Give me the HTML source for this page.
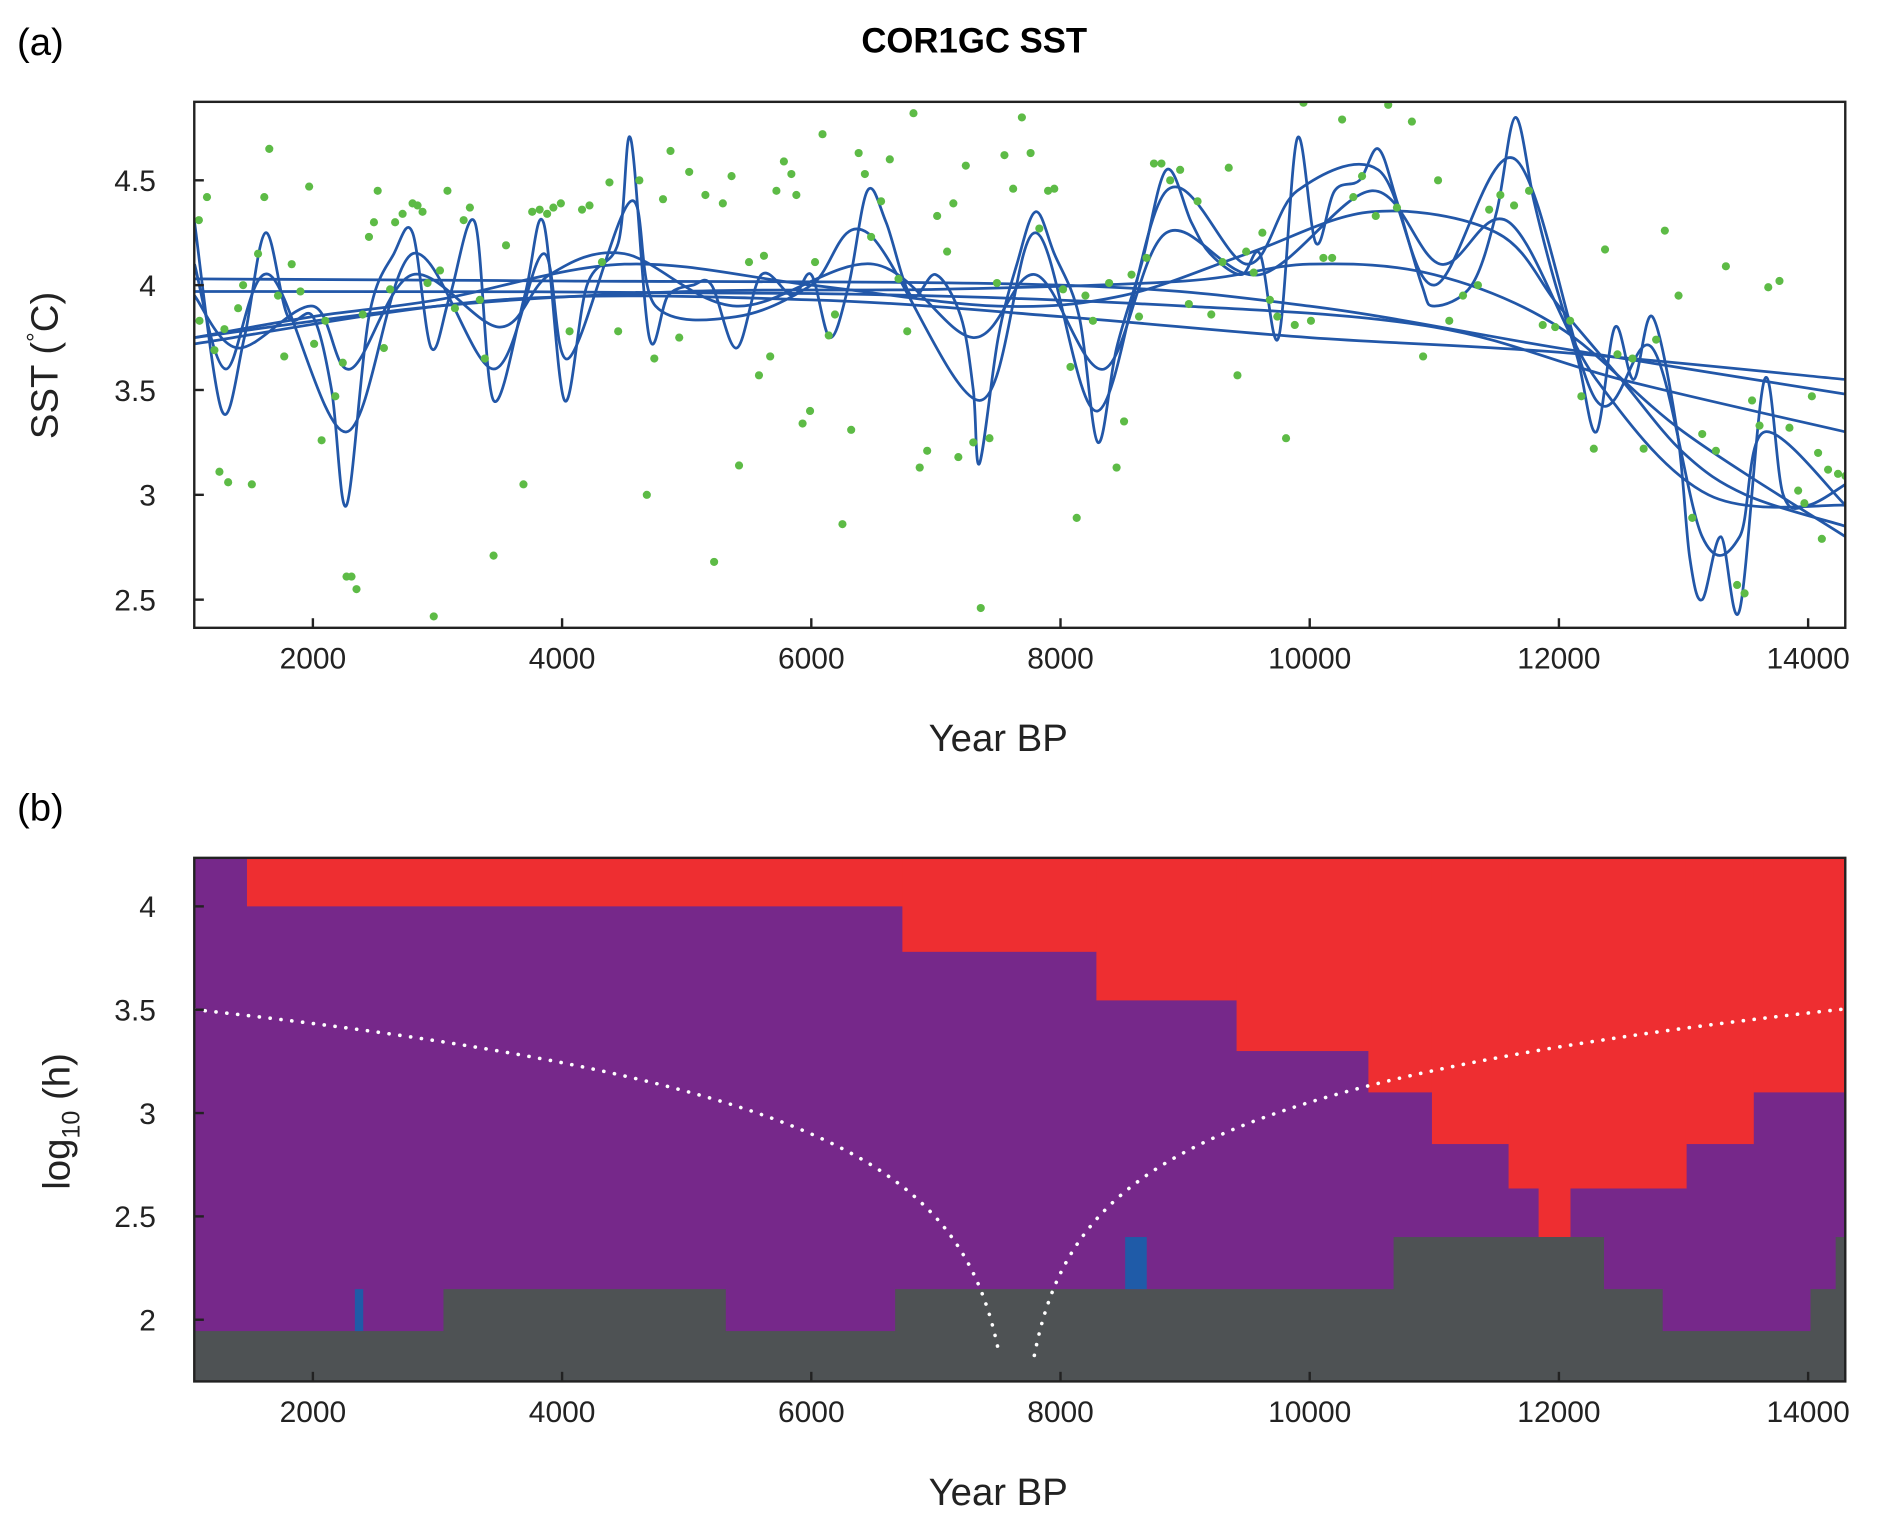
<!DOCTYPE html>
<html><head><meta charset="utf-8"><style>
html,body{margin:0;padding:0;background:#fff}
svg{display:block;font-family:"Liberation Sans",Arial,sans-serif}
</style></head><body>
<svg id="chart" width="1879" height="1524" viewBox="0 0 1568 1272" xmlns="http://www.w3.org/2000/svg">
<defs>
<clipPath id="clipA"><rect x="162" y="85" width="1378" height="439"/></clipPath>
<clipPath id="clipB"><rect x="162" y="716" width="1378" height="437"/></clipPath>
</defs>
<text x="14" y="46" font-size="32">(a)</text>
<text x="813" y="44" font-size="29" font-weight="bold" text-anchor="middle">COR1GC SST</text>
<text x="14" y="685" font-size="32">(b)</text>
<g id="panelA"></g>
<g id="panelB"></g>
</svg>
<script>
// ---- Panel A data ----
const scatterYears=[1085,1150,1090,1210,1250,1320,1290,1400,1440,1510,1560,1610,1650,1720,1770,1830,1900,1970,2010,2070,2100,2180,2240,2270,2310,2350,2400,2450,2490,2520,2570,2620,2660,2720,2800,2840,2880,2920,2970,3020,3080,3140,3210,3260,3340,3380,3450,3550,3690,3760,3820,3880,3930,3990,4060,4160,4220,4320,4380,4450,4620,4680,4740,4810,4870,4940,5020,5150,5220,5290,5360,5420,5500,5580,5620,5670,5720,5780,5840,5880,5930,5990,6030,6090,6140,6190,6250,6320,6380,6430,6480,6560,6630,6700,6770,6820,6870,6930,7010,7090,7140,7180,7240,7300,7360,7430,7490,7550,7620,7690,7760,7830,7900,7950,8020,8080,8130,8200,8260,8390,8450,8510,8570,8630,8690,8750,8810,8880,8960,9030,9100,9210,9300,9350,9420,9490,9550,9620,9680,9740,9810,9880,9950,10010,10110,10180,10260,10350,10420,10530,10630,10700,10820,10910,11030,11120,11230,11350,11440,11530,11640,11760,11870,11970,12090,12180,12280,12370,12470,12590,12680,12780,12850,12960,13070,13150,13260,13340,13430,13490,13550,13610,13680,13770,13850,13920,13970,14030,14080,14160,14240,14300,14110];
const scatterValues=[4.31,4.42,3.83,3.69,3.11,3.06,3.79,3.89,4.0,3.05,4.15,4.42,4.65,3.95,3.66,4.1,3.97,4.47,3.72,3.26,3.83,3.47,3.63,2.61,2.61,2.55,3.86,4.23,4.3,4.45,3.7,3.98,4.3,4.34,4.39,4.38,4.35,4.01,2.42,4.07,4.45,3.89,4.31,4.37,3.93,3.65,2.71,4.19,3.05,4.35,4.36,4.34,4.37,4.39,3.78,4.36,4.38,4.11,4.49,3.78,4.5,3.0,3.65,4.41,4.64,3.75,4.54,4.43,2.68,4.39,4.52,3.14,4.11,3.57,4.14,3.66,4.45,4.59,4.53,4.43,3.34,3.4,4.11,4.72,3.76,3.86,2.86,3.31,4.63,4.53,4.23,4.4,4.6,4.03,3.78,4.82,3.13,3.21,4.33,4.16,4.39,3.18,4.57,3.25,2.46,3.27,4.01,4.62,4.46,4.8,4.63,4.27,4.45,4.46,3.98,3.61,2.89,3.95,3.83,4.01,3.13,3.35,4.05,3.85,4.13,4.58,4.58,4.5,4.55,3.91,4.4,3.86,4.11,4.56,3.57,4.16,4.06,4.25,3.93,3.85,3.27,3.81,4.87,3.83,4.13,4.13,4.79,4.42,4.52,4.33,4.86,4.37,4.78,3.66,4.5,3.83,3.95,4.0,4.36,4.43,4.38,4.45,3.81,3.8,3.83,3.47,3.22,4.17,3.67,3.65,3.22,3.74,4.26,3.95,2.89,3.29,3.21,4.09,2.57,2.53,3.45,3.33,3.99,4.02,3.32,3.02,2.96,3.47,3.2,3.12,3.1,3.09,2.79];

const wigglyYears=[1050,1270,1450,1620,1800,2000,2150,2270,2450,2650,2800,2950,3100,3300,3450,3700,3850,4020,4200,4450,4550,4700,4850,5050,5200,5400,5600,5850,6000,6150,6300,6450,6600,6800,7000,7200,7300,7350,7500,7650,7800,7950,8150,8300,8450,8650,8850,9050,9200,9450,9600,9750,9900,10050,10200,10400,10550,10700,10900,11000,11300,11500,11650,11800,11950,12150,12300,12450,12600,12750,12950,13050,13150,13300,13450,13650,13800,14000,14300];
const wigglyValues=[4.3,3.4,3.75,4.25,3.85,3.85,3.5,2.95,3.85,4.15,4.25,3.7,3.95,4.3,3.45,3.95,4.3,3.45,4.0,4.2,4.7,3.75,3.95,4.0,4.0,3.7,4.05,3.95,4.05,3.75,4.0,4.45,4.3,3.95,4.05,3.85,3.5,3.15,3.75,4.1,4.35,4.15,3.85,3.25,3.7,4.1,4.55,4.3,4.15,4.05,4.15,3.75,4.7,4.2,4.45,4.5,4.65,4.4,4.0,3.9,4.0,4.35,4.8,4.4,4.05,3.65,3.3,3.8,3.55,3.85,3.3,2.7,2.5,2.8,2.45,3.55,3.0,2.95,3.05];
const medAYears=[1050,1300,1650,2270,2800,3450,3850,4050,4550,4750,5400,6000,6450,7350,7800,8300,8850,9500,9900,10550,11000,11650,12300,12750,13150,13450,13650,14300];
const medAValues=[4.1,3.6,4.05,3.3,4.15,3.6,4.15,3.65,4.4,3.9,3.85,4.0,4.25,3.45,4.25,3.4,4.45,4.1,4.45,4.55,4.0,4.6,3.45,3.7,2.8,2.8,3.3,2.95];
const medBYears=[1050,1400,2000,2300,2800,3500,3900,4500,5400,6500,7300,7800,8350,8850,9600,10500,11050,11600,12300,13200,14300];
const medBValues=[3.95,3.7,3.9,3.6,4.05,3.8,4.05,4.15,3.9,4.1,3.75,4.05,3.6,4.25,4.05,4.45,4.1,4.3,3.55,3.0,2.95];
const s1Years=[1050,2000,3000,4500,6000,7500,8500,9500,10500,11500,12000,12500,13000,13500,14300];
const s1Values=[3.75,3.85,3.93,4.1,4.0,3.9,3.95,4.15,4.35,4.25,3.9,3.55,3.2,3.0,2.85];
const s2Years=[1050,3000,5000,7000,9000,10000,11000,12000,13000,14300];
const s2Values=[3.75,3.9,3.97,3.98,4.02,4.1,4.05,3.8,3.3,2.8];
const s3Years=[1050,3500,6000,8000,10000,12000,14300];
const s3Values=[3.72,3.93,3.93,3.85,3.75,3.68,3.55];
const s4Years=[1050,4000,8000,10000,12000,14300];
const s4Values=[4.03,4.02,4.0,3.9,3.7,3.48];
const s5Years=[1050,6000,9000,11000,12500,14300];
const s5Values=[3.97,3.96,3.9,3.8,3.55,3.3];
const xTicks=[2000,4000,6000,8000,10000,12000,14000];
const xTickLabels=["2000","4000","6000","8000","10000","12000","14000"];
const yTicksA=[2.5,3,3.5,4,4.5];
const yTickLabelsA=["2.5","3","3.5","4","4.5"];

// ---- Panel B data ----
const redEdges=[1048,1471,6731,8288,9413,10471,10981,11596,11837,12087,13019,13558,14300];
const redLevels=[4.3,4.0,3.78,3.545,3.30,3.10,2.85,2.635,2.40,2.635,2.85,3.10];
const grayEdges=[1048,3048,5308,6673,10673,12356,12827,14019,14221,14300];
const grayLevels=[1.945,2.148,1.945,2.148,2.40,2.148,1.945,2.148,2.40];
const blueStarts=[2337,8519];
const blueEnds=[2404,8692];
const blueBottoms=[1.945,2.148];
const blueTops=[2.148,2.40];
const yTicksB=[2,2.5,3,3.5,4];
const yTickLabelsB=["2","2.5","3","3.5","4"];
const coiCenter=7650;
const coiScale=0.48;

const NS="http://www.w3.org/2000/svg";
const X=y=>261+(y-2000)*0.104;
const YA=v=>238-(v-4)*175;
const YB=v=>929-(v-3)*172.5;
function mk(tag,attrs,parent){const e=document.createElementNS(NS,tag);for(const k in attrs)e.setAttribute(k,attrs[k]);parent.appendChild(e);return e;}
function smoothPath(xs,ys){let d="M"+xs[0]+","+ys[0];for(let i=0;i<xs.length-1;i++){const x0=xs[Math.max(0,i-1)],y0=ys[Math.max(0,i-1)],x1=xs[i],y1=ys[i],x2=xs[i+1],y2=ys[i+1],x3=xs[Math.min(xs.length-1,i+2)],y3=ys[Math.min(xs.length-1,i+2)];d+=" C"+(x1+(x2-x0)/6)+","+(y1+(y2-y0)/6)+" "+(x2-(x3-x1)/6)+","+(y2-(y3-y1)/6)+" "+x2+","+y2;}return d;}

const A=document.getElementById('panelA');
const gA=mk('g',{'clip-path':'url(#clipA)'},A);
const curves=[[s3Years,s3Values],[s4Years,s4Values],[s5Years,s5Values],[s2Years,s2Values],[s1Years,s1Values],[medBYears,medBValues],[medAYears,medAValues],[wigglyYears,wigglyValues]];
curves.forEach((c,i)=>{
  const p=mk('path',{d:smoothPath(c[0].map(X),c[1].map(YA)),fill:'none',stroke:'#2257A8','stroke-width':2.3},gA);
  
  
});
scatterYears.forEach((yr,i)=>{
  const c=mk('circle',{cx:X(yr),cy:YA(scatterValues[i]),r:3.4,fill:'#5DBB46'},gA);
  
  
});
function axes(parent,top,bot,yTicks,yLabels,Yf,name){
  const r=mk('rect',{x:162,y:top,width:1378,height:bot-top,fill:'none',stroke:'#222','stroke-width':2},parent);
  
  
  xTicks.forEach((t,i)=>{
    mk('line',{x1:X(t),x2:X(t),y1:bot,y2:bot-8,stroke:'#222','stroke-width':2},parent);
    const tx=mk('text',{x:X(t),y:bot+34,'font-size':25,'text-anchor':'middle',fill:'#222'},parent);
    tx.textContent=xTickLabels[i];
    
    
  });
  yTicks.forEach((t,i)=>{
    mk('line',{x1:162,x2:170,y1:Yf(t),y2:Yf(t),stroke:'#222','stroke-width':2},parent);
    const tx=mk('text',{x:130,y:Yf(t)+9,'font-size':25,'text-anchor':'end',fill:'#222'},parent);
    tx.textContent=yLabels[i];
    
    
  });
  const xl=mk('text',{x:833,y:bot+103,'font-size':32,'text-anchor':'middle',fill:'#222'},parent);
  xl.textContent='Year BP';
  
  
}
axes(A,85,524,yTicksA,yTickLabelsA,YA,'panel-a');
const yla=mk('text',{transform:'translate(48,305) rotate(-90)','font-size':32,'text-anchor':'middle',fill:'#222'},A);
yla.innerHTML='SST (<tspan font-size="20" dy="-12">°</tspan><tspan dy="12">C)</tspan>';



const B=document.getElementById('panelB');
const gB=mk('g',{'clip-path':'url(#clipB)'},B);
const bg=mk('rect',{x:162,y:716,width:1378,height:437,fill:'#76288A'},gB);


redLevels.forEach((lv,i)=>{
  const r=mk('rect',{x:X(redEdges[i]),y:700,width:X(redEdges[i+1])-X(redEdges[i])+0.6,height:Math.max(0,YB(lv)-700),fill:'#EE2E31'},gB);
  
  
});
grayLevels.forEach((lv,i)=>{
  const r=mk('rect',{x:X(grayEdges[i]),y:YB(lv),width:X(grayEdges[i+1])-X(grayEdges[i])+0.6,height:1160-YB(lv),fill:'#4E5254'},gB);
  
  
});
blueStarts.forEach((s,i)=>{
  const r=mk('rect',{x:X(s),y:YB(blueTops[i]),width:X(blueEnds[i])-X(s),height:YB(blueBottoms[i])-YB(blueTops[i]),fill:'#1F5BA8'},gB);
  
  
});
function coi(yrs){return yrs.map(y=>[X(y),YB(Math.log10(coiScale*Math.abs(y-coiCenter)))]);}
const leftY=[],rightY=[];
for(let y=1048;y<=7510;y+=20)leftY.push(y);
for(let y=7790;y<=14300;y+=20)rightY.push(y);
[leftY,rightY].forEach((arr,i)=>{
  const pts=coi(arr);
  const p=mk('polyline',{points:pts.map(p=>p.join(',')).join(' '),fill:'none',stroke:'#fff','stroke-width':3,'stroke-dasharray':'0.1 9','stroke-linecap':'round'},gB);
  
  
});
axes(B,716,1153,yTicksB,yTickLabelsB,YB,'panel-b');
const ylb=mk('text',{transform:'translate(58,936) rotate(-90)','font-size':32,'text-anchor':'middle',fill:'#222'},B);
ylb.innerHTML='log<tspan font-size="21" dy="8">10</tspan><tspan dy="-8"> (h)</tspan>';


</script>
</body></html>
